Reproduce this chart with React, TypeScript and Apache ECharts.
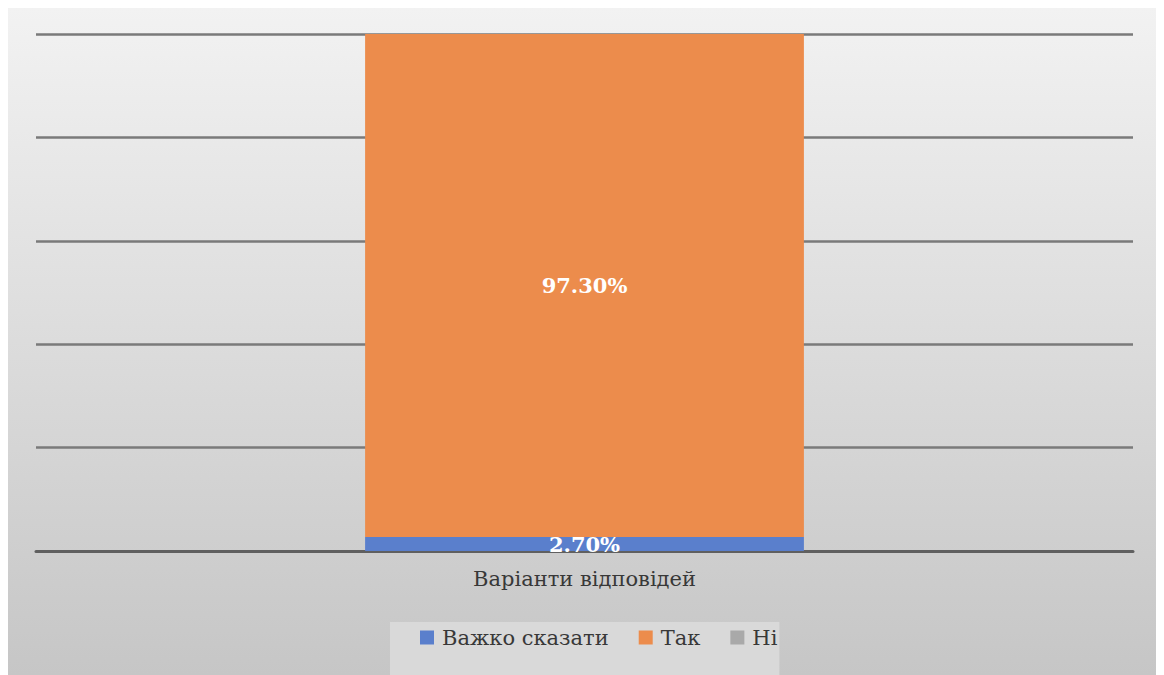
import React, { useEffect, useRef } from "react";
import * as echarts from "echarts";

const categories = ["Варіанти відповідей"];
const seriesNames = ["Важко сказати", "Так", "Ні"];
const seriesValues = [[2.7], [97.3], [0]];
const seriesColors = ["#5a7fcc", "#ec8c4c", "#a9a9a9"];
const yTicks = { min: 0, max: 100, interval: 20 };

export default function App() {
  const ref = useRef<HTMLDivElement>(null);
  useEffect(() => {
    if (!ref.current) return;
    const chart = echarts.init(ref.current, null, { renderer: "svg" });
    const font = "'DejaVu Serif', 'Liberation Serif', serif";
    chart.setOption({
      animation: false,
      backgroundColor: {
        type: "linear",
        x: 0,
        y: 0,
        x2: 0,
        y2: 1,
        colorStops: [
          { offset: 0, color: "#f2f2f2" },
          { offset: 1, color: "#c6c6c6" },
        ],
      },
      grid: { left: 28, right: 27, top: 26, bottom: 124 },
      legend: {
        data: seriesNames,
        left: 382,
        top: 614,
        itemWidth: 14,
        itemHeight: 14,
        itemGap: 30,
        icon: "rect",
        backgroundColor: "#d9d9d9",
        padding: [5, 2, 30, 30],
        textStyle: {
          fontFamily: font,
          fontSize: 21,
          color: "#383838",
          padding: [0, 0, 0, 3],
        },
      },
      xAxis: {
        type: "category",
        data: categories,
        axisLine: { show: true, lineStyle: { color: "#606060", width: 3 } },
        axisTick: { show: false },
        axisLabel: {
          fontFamily: font,
          fontSize: 21,
          color: "#383838",
          margin: 17,
        },
      },
      yAxis: {
        type: "value",
        min: yTicks.min,
        max: yTicks.max,
        interval: yTicks.interval,
        axisLabel: { show: false },
        axisLine: { show: false },
        axisTick: { show: false },
        splitLine: { lineStyle: { color: "#7a7a7a", width: 2.5 } },
      },
      series: seriesNames.map((name, i) => ({
        name,
        type: "bar",
        stack: "total",
        barWidth: "40%",
        data: seriesValues[i],
        itemStyle: { color: seriesColors[i] },
        label: {
          show: true,
          position: "inside",
          color: "#ffffff",
          fontFamily: font,
          fontWeight: "bold",
          fontSize: 21,
          formatter: (p: any) => (p.value > 0 ? p.value.toFixed(2) + "%" : ""),
        },
      })),
    });
    return () => chart.dispose();
  }, []);
  return <div ref={ref} style={{ width: 1152, height: 667 }} />;
}
